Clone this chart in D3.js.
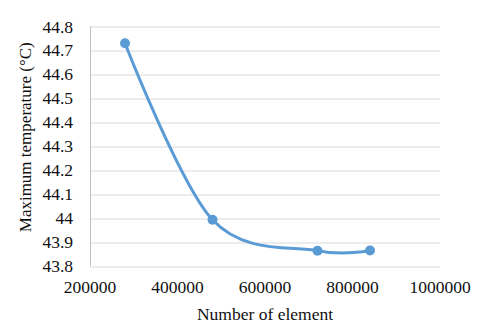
<!DOCTYPE html>
<html lang="en">
<head>
<meta charset="UTF-8">
<title>Maximum temperature vs number of element</title>
<script src="https://d3js.org/d3.v7.min.js"></script>
<style>
    body { margin: 0; background: #fff; }
    svg text { fill: #111; }
    .grid line { stroke: #d9d9d9; stroke-width: 1; }
</style>
</head>
<body>
<svg id="chart"></svg>
<script>
// data
const elements = [280000, 480000, 720000, 840000];
const maxTemp = [44.73, 43.993, 43.864, 43.865];
const xTicks = [200000, 400000, 600000, 800000, 1000000];
const yTicks = [43.8, 43.9, 44, 44.1, 44.2, 44.3, 44.4, 44.5, 44.6, 44.7, 44.8];

const FONT = "'Liberation Serif', Tinos, 'Times New Roman', 'DejaVu Serif', serif";

const W = 480, H = 334;
const margin = { top: 26.5, right: 40, bottom: 68, left: 90 };
const width = W - margin.left - margin.right;
const height = H - margin.top - margin.bottom;

const svg = d3.select("#chart").attr("width", W).attr("height", H)
    .attr("font-family", FONT);
const g = svg.append("g").attr("transform", `translate(${margin.left},${margin.top})`);

const x = d3.scaleLinear().domain([200000, 1000000]).range([0, width]);
const y = d3.scaleLinear().domain([43.8, 44.8]).range([height, 0]);

// horizontal gridlines
g.append("g").attr("class", "grid")
    .selectAll("line")
    .data(yTicks)
    .enter().append("line")
    .attr("x1", 0).attr("x2", width)
    .attr("y1", d => Math.round(y(d)) + 0.5)
    .attr("y2", d => Math.round(y(d)) + 0.5);

// left axis line
g.append("line")
    .attr("x1", 0.5).attr("x2", 0.5)
    .attr("y1", 0).attr("y2", height)
    .attr("stroke", "#bfbfbf").attr("stroke-width", 1);

// y tick labels
g.selectAll(".ylab")
    .data(yTicks)
    .enter().append("text")
    .attr("class", "ylab")
    .attr("x", -17)
    .attr("y", d => y(d) + 6)
    .attr("text-anchor", "end")
    .style("font-size", "17.5px")
    .text(d => +d.toFixed(1));

// x tick labels
g.selectAll(".xlab")
    .data(xTicks)
    .enter().append("text")
    .attr("class", "xlab")
    .attr("x", d => x(d))
    .attr("y", height + 27)
    .attr("text-anchor", "middle")
    .style("font-size", "17.5px")
    .text(d => d);

// axis titles
g.append("text")
    .attr("x", width / 2)
    .attr("y", height + 54)
    .attr("text-anchor", "middle")
    .style("font-size", "17.5px")
    .text("Number of element");

g.append("text")
    .attr("transform", `translate(${-59},${height / 2 - 9}) rotate(-90)`)
    .attr("text-anchor", "middle")
    .style("font-size", "17px")
    .text("Maximum temperature (°C)");

// smoothed line
const pts = elements.map((e, i) => [e, maxTemp[i]]);
const line = d3.line()
    .x(d => x(d[0]))
    .y(d => y(d[1]))
    .curve(d3.curveCatmullRom.alpha(0));

g.append("path")
    .datum(pts)
    .attr("fill", "none")
    .attr("stroke", "#5b9bd5")
    .attr("stroke-width", 3)
    .attr("d", line);

g.selectAll(".dot")
    .data(pts)
    .enter().append("circle")
    .attr("class", "dot")
    .attr("cx", d => x(d[0]))
    .attr("cy", d => y(d[1]))
    .attr("r", 5)
    .attr("fill", "#5b9bd5");
</script>
</body>
</html>
